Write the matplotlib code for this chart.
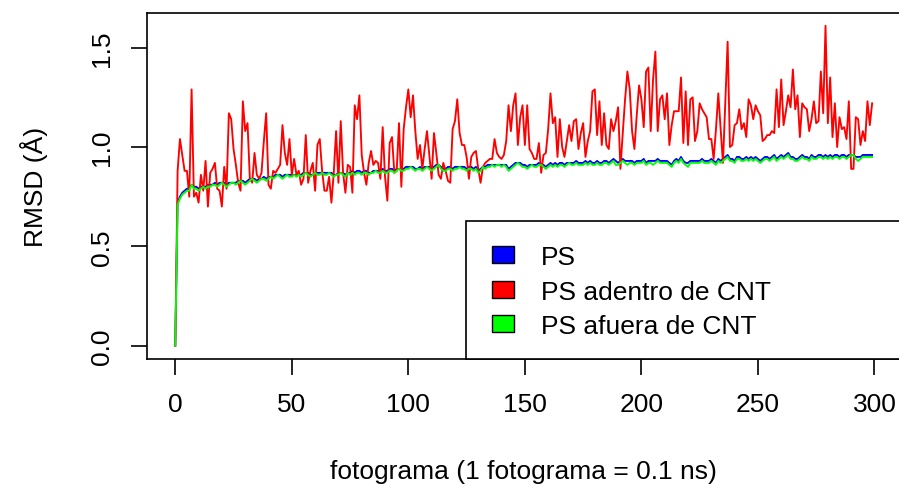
import numpy as np
import matplotlib
matplotlib.use("Agg")
import matplotlib.pyplot as plt
from matplotlib.patches import Rectangle

plt.rcParams['font.family'] = ['Liberation Sans', 'DejaVu Sans']

# RMSD per frame (Å), frames 0..299
rmsd_ps = [
    0.00, 0.72, 0.75, 0.77, 0.78, 0.79, 0.79, 0.81, 0.80, 0.80,
    0.79, 0.80, 0.80, 0.80, 0.81, 0.81, 0.81, 0.82, 0.81, 0.82,
    0.82, 0.82, 0.81, 0.82, 0.82, 0.82, 0.82, 0.83, 0.83, 0.83,
    0.82, 0.83, 0.84, 0.84, 0.84, 0.83, 0.84, 0.84, 0.85, 0.84,
    0.85, 0.85, 0.85, 0.86, 0.86, 0.86, 0.85, 0.86, 0.86, 0.86,
    0.86, 0.86, 0.86, 0.86, 0.86, 0.87, 0.87, 0.87, 0.86, 0.86,
    0.87, 0.87, 0.87, 0.87, 0.87, 0.87, 0.87, 0.87, 0.86, 0.86,
    0.87, 0.87, 0.87, 0.86, 0.87, 0.87, 0.88, 0.87, 0.88, 0.88,
    0.87, 0.88, 0.88, 0.87, 0.87, 0.88, 0.88, 0.88, 0.88, 0.89,
    0.88, 0.88, 0.89, 0.89, 0.88, 0.89, 0.89, 0.89, 0.89, 0.90,
    0.90, 0.90, 0.90, 0.89, 0.89, 0.90, 0.89, 0.90, 0.90, 0.90,
    0.89, 0.90, 0.91, 0.91, 0.90, 0.89, 0.89, 0.90, 0.90, 0.89,
    0.90, 0.90, 0.90, 0.90, 0.90, 0.89, 0.90, 0.90, 0.89, 0.90,
    0.88, 0.89, 0.90, 0.90, 0.91, 0.91, 0.91, 0.91, 0.91, 0.91,
    0.91, 0.91, 0.91, 0.89, 0.90, 0.91, 0.92, 0.92, 0.92, 0.91,
    0.91, 0.90, 0.91, 0.91, 0.91, 0.91, 0.92, 0.91, 0.91, 0.90,
    0.91, 0.92, 0.91, 0.92, 0.91, 0.92, 0.92, 0.91, 0.92, 0.92,
    0.92, 0.92, 0.93, 0.92, 0.92, 0.92, 0.93, 0.92, 0.93, 0.92,
    0.92, 0.93, 0.92, 0.92, 0.93, 0.93, 0.92, 0.93, 0.94, 0.93,
    0.92, 0.93, 0.94, 0.93, 0.93, 0.93, 0.93, 0.92, 0.93, 0.93,
    0.93, 0.94, 0.92, 0.93, 0.93, 0.93, 0.93, 0.94, 0.93, 0.93,
    0.93, 0.93, 0.92, 0.91, 0.93, 0.94, 0.93, 0.95, 0.93, 0.92,
    0.92, 0.93, 0.93, 0.93, 0.93, 0.93, 0.94, 0.93, 0.93, 0.93,
    0.94, 0.93, 0.92, 0.94, 0.93, 0.94, 0.95, 0.96, 0.94, 0.94,
    0.93, 0.95, 0.95, 0.94, 0.94, 0.95, 0.94, 0.95, 0.94, 0.95,
    0.94, 0.93, 0.94, 0.95, 0.95, 0.94, 0.95, 0.96, 0.94, 0.95,
    0.96, 0.95, 0.96, 0.97, 0.95, 0.95, 0.94, 0.94, 0.95, 0.96,
    0.95, 0.95, 0.94, 0.96, 0.95, 0.95, 0.96, 0.96, 0.95, 0.96,
    0.95, 0.96, 0.95, 0.96, 0.96, 0.95, 0.96, 0.96, 0.95, 0.96,
    0.96, 0.96, 0.95, 0.95, 0.95, 0.96, 0.96, 0.96, 0.96, 0.96,
]

rmsd_inside = [
    0.00, 0.88, 1.04, 0.96, 0.88, 0.88, 0.75, 1.29, 0.75, 0.77,
    0.72, 0.86, 0.78, 0.93, 0.70, 0.87, 0.89, 0.92, 0.79, 0.78,
    0.70, 0.90, 0.79, 1.17, 1.14, 0.99, 0.91, 0.82, 0.78, 1.23,
    1.08, 1.12, 0.84, 0.82, 0.97, 0.86, 0.84, 0.87, 1.03, 1.17,
    0.81, 0.79, 0.88, 0.87, 0.89, 0.91, 1.11, 0.97, 0.91, 1.04,
    0.86, 0.94, 0.86, 0.88, 0.81, 0.84, 1.06, 0.82, 0.88, 0.92,
    0.78, 1.01, 1.04, 0.88, 0.78, 0.78, 0.85, 0.72, 0.87, 1.08,
    0.82, 1.13, 0.87, 0.77, 0.91, 0.90, 0.77, 1.21, 1.14, 1.26,
    0.96, 0.87, 0.81, 0.92, 0.98, 0.91, 0.93, 0.92, 0.84, 1.10,
    0.85, 0.73, 1.02, 1.05, 0.87, 0.88, 1.12, 0.80, 1.09, 1.20,
    1.29, 1.15, 1.26, 1.08, 0.94, 1.01, 0.89, 0.99, 1.08, 0.96,
    0.84, 1.07, 0.97, 0.86, 0.84, 0.92, 0.88, 0.83, 0.82, 1.09,
    1.13, 1.24, 1.07, 1.01, 1.01, 0.95, 0.84, 0.95, 0.97, 0.98,
    0.89, 0.82, 0.90, 0.92, 0.93, 0.94, 0.94, 1.04, 0.97, 0.95,
    0.94, 0.96, 1.03, 1.21, 1.08, 1.21, 1.27, 1.01, 1.15, 1.21,
    1.01, 1.21, 0.99, 0.97, 0.94, 0.94, 1.02, 0.87, 0.96, 0.97,
    1.09, 1.27, 1.12, 1.15, 0.95, 1.14, 1.00, 0.95, 1.03, 1.11,
    1.03, 1.13, 1.14, 0.99, 1.07, 1.12, 0.95, 1.03, 1.08, 1.28,
    1.29, 1.06, 1.23, 1.01, 1.17, 1.01, 0.99, 1.14, 1.08, 1.13,
    1.20, 0.89, 1.07, 1.24, 1.38, 1.29, 1.08, 0.99, 1.16, 1.31,
    1.24, 1.10, 1.38, 1.40, 1.08, 1.34, 1.48, 1.08, 1.24, 1.26,
    1.14, 1.27, 1.01, 1.11, 1.18, 1.18, 1.18, 1.35, 1.02, 1.28,
    1.01, 1.24, 1.25, 1.03, 1.08, 1.22, 1.19, 1.17, 1.15, 1.04,
    1.04, 0.94, 1.09, 1.27, 1.09, 0.92, 1.22, 1.53, 1.00, 1.01,
    1.11, 1.12, 1.19, 1.09, 1.12, 1.05, 1.24, 1.21, 1.14, 1.21,
    1.18, 1.16, 1.03, 1.04, 1.06, 1.06, 1.08, 1.07, 1.29, 1.10,
    1.34, 1.11, 1.18, 1.26, 1.20, 1.39, 1.19, 1.26, 1.05, 1.22,
    1.20, 1.19, 1.08, 1.14, 1.23, 1.12, 1.13, 1.38, 1.17, 1.61,
    1.12, 1.35, 1.05, 1.22, 1.00, 1.15, 1.09, 1.10, 1.04, 1.23,
    0.89, 0.89, 1.15, 1.14, 1.01, 1.08, 1.03, 1.23, 1.11, 1.22,
]

rmsd_outside = [
    0.00, 0.71, 0.74, 0.76, 0.77, 0.78, 0.78, 0.81, 0.79, 0.79,
    0.78, 0.79, 0.80, 0.79, 0.80, 0.80, 0.81, 0.81, 0.80, 0.81,
    0.82, 0.81, 0.80, 0.81, 0.82, 0.82, 0.81, 0.82, 0.83, 0.82,
    0.81, 0.82, 0.83, 0.84, 0.83, 0.82, 0.83, 0.84, 0.84, 0.83,
    0.84, 0.85, 0.84, 0.85, 0.86, 0.85, 0.84, 0.85, 0.86, 0.85,
    0.85, 0.86, 0.85, 0.86, 0.85, 0.86, 0.87, 0.86, 0.85, 0.86,
    0.87, 0.86, 0.86, 0.87, 0.86, 0.86, 0.87, 0.86, 0.85, 0.86,
    0.86, 0.87, 0.86, 0.85, 0.87, 0.86, 0.87, 0.86, 0.87, 0.87,
    0.86, 0.87, 0.87, 0.86, 0.87, 0.87, 0.88, 0.87, 0.87, 0.88,
    0.87, 0.87, 0.88, 0.88, 0.87, 0.88, 0.89, 0.88, 0.88, 0.89,
    0.89, 0.90, 0.89, 0.88, 0.89, 0.89, 0.88, 0.89, 0.90, 0.89,
    0.88, 0.89, 0.90, 0.91, 0.89, 0.88, 0.88, 0.89, 0.89, 0.88,
    0.89, 0.89, 0.90, 0.89, 0.89, 0.88, 0.89, 0.89, 0.88, 0.89,
    0.87, 0.88, 0.90, 0.89, 0.90, 0.90, 0.91, 0.90, 0.91, 0.91,
    0.90, 0.91, 0.90, 0.88, 0.89, 0.90, 0.91, 0.92, 0.91, 0.90,
    0.90, 0.89, 0.90, 0.91, 0.90, 0.90, 0.91, 0.91, 0.90, 0.89,
    0.90, 0.91, 0.90, 0.91, 0.90, 0.91, 0.91, 0.90, 0.91, 0.92,
    0.91, 0.91, 0.92, 0.91, 0.91, 0.91, 0.92, 0.91, 0.92, 0.91,
    0.91, 0.92, 0.91, 0.91, 0.92, 0.92, 0.91, 0.92, 0.93, 0.91,
    0.91, 0.92, 0.93, 0.92, 0.91, 0.92, 0.92, 0.91, 0.92, 0.92,
    0.92, 0.93, 0.91, 0.92, 0.92, 0.91, 0.92, 0.93, 0.92, 0.92,
    0.92, 0.92, 0.91, 0.90, 0.92, 0.93, 0.92, 0.94, 0.92, 0.91,
    0.90, 0.92, 0.92, 0.92, 0.92, 0.92, 0.93, 0.92, 0.92, 0.92,
    0.93, 0.92, 0.91, 0.93, 0.92, 0.93, 0.94, 0.95, 0.93, 0.93,
    0.92, 0.94, 0.94, 0.93, 0.93, 0.94, 0.93, 0.94, 0.93, 0.94,
    0.93, 0.92, 0.93, 0.94, 0.94, 0.93, 0.94, 0.95, 0.93, 0.94,
    0.95, 0.94, 0.95, 0.96, 0.94, 0.94, 0.93, 0.93, 0.94, 0.95,
    0.94, 0.94, 0.93, 0.95, 0.94, 0.94, 0.95, 0.95, 0.94, 0.95,
    0.94, 0.95, 0.94, 0.95, 0.95, 0.94, 0.95, 0.95, 0.94, 0.95,
    0.96, 0.96, 0.94, 0.93, 0.94, 0.95, 0.95, 0.95, 0.95, 0.95,
]

series_labels = ["PS", "PS adentro de CNT", "PS afuera de CNT"]
series_colors = ["#0000FF", "#FF0000", "#00FF00"]

frames = np.arange(len(rmsd_ps))

W, H = 899, 485
fig = plt.figure(figsize=(W / 100, H / 100), dpi=100)
ax = fig.add_axes([147.4 / W, (H - 359.5) / H, 752.6 / W, 345.5 / H])

for y, c in zip([rmsd_ps, rmsd_inside, rmsd_outside], series_colors):
    ax.plot(frames, y, color=c, lw=1.35)

# R-style 4% padding around the data range
ax.margins(x=0.04, y=0.04)

ax.set_xticks(np.arange(0, 301, 50))
ax.set_yticks([0.0, 0.5, 1.0, 1.5])
ax.set_yticklabels(["0.0", "0.5", "1.0", "1.5"], rotation=90, va="center")
ax.tick_params(direction="out", length=11.5, width=1.2, labelsize=19, pad=12.5)

for s in ax.spines.values():
    s.set_linewidth(1.2)

ax.set_xlabel("fotograma (1 fotograma = 0.1 ns)", fontsize=19, labelpad=31)
ax.set_ylabel("RMSD (Å)", fontsize=19, labelpad=30)

# legend box in the bottom-right corner, filled squares as keys
ax.add_patch(Rectangle((0.4233, 0.0), 0.5767, 0.398, transform=ax.transAxes,
                       facecolor="white", edgecolor="black", lw=1.2, zorder=5,
                       clip_on=False))
baselines = [0.2735, 0.1722, 0.0738]
for lab, c, yb in zip(series_labels, series_colors, baselines):
    ax.add_patch(Rectangle((0.4579, yb + 0.004), 0.0292, 0.049,
                           transform=ax.transAxes, facecolor=c,
                           edgecolor="black", lw=1.0, zorder=6))
    ax.text(0.5228, yb, lab, transform=ax.transAxes, fontsize=19,
            va="baseline", ha="left", zorder=6)

fig.savefig("out.png", dpi=100)
